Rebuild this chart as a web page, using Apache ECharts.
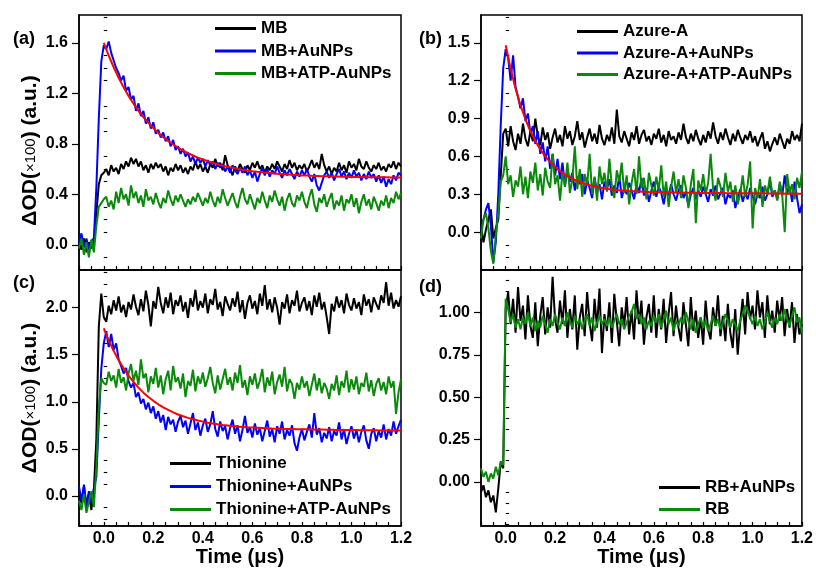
<!DOCTYPE html>
<html><head><meta charset="utf-8">
<script src="https://cdn.jsdelivr.net/npm/echarts@6/dist/echarts.min.js"></script>
<style>html,body{margin:0;padding:0;background:#fff}#c{width:816px;height:571px}</style>
</head><body><div id="c"></div><script>
// time axis (µs) of the measured traces
const T = [
-0.10,-0.09,-0.08,-0.07,-0.06,-0.05,-0.04,-0.03,-0.02,-0.01,
0.00,0.01,0.02,0.03,0.04,0.05,0.06,0.07,0.08,0.09,
0.10,0.11,0.12,0.13,0.14,0.15,0.16,0.17,0.18,0.19,
0.20,0.21,0.22,0.23,0.24,0.25,0.26,0.27,0.28,0.29,
0.30,0.31,0.32,0.33,0.34,0.35,0.36,0.37,0.38,0.39,
0.40,0.41,0.42,0.43,0.44,0.45,0.46,0.47,0.48,0.49,
0.50,0.51,0.52,0.53,0.54,0.55,0.56,0.57,0.58,0.59,
0.60,0.61,0.62,0.63,0.64,0.65,0.66,0.67,0.68,0.69,
0.70,0.71,0.72,0.73,0.74,0.75,0.76,0.77,0.78,0.79,
0.80,0.81,0.82,0.83,0.84,0.85,0.86,0.87,0.88,0.89,
0.90,0.91,0.92,0.93,0.94,0.95,0.96,0.97,0.98,0.99,
1.00,1.01,1.02,1.03,1.04,1.05,1.06,1.07,1.08,1.09,
1.10,1.11,1.12,1.13,1.14,1.15,1.16,1.17,1.18,1.19,
1.20];
// time axis of the fitted curves
const TF = [
0.00,0.02,0.04,0.06,0.08,0.10,0.12,0.14,0.16,0.18,
0.20,0.22,0.24,0.26,0.28,0.30,0.32,0.34,0.36,0.38,
0.40,0.42,0.44,0.46,0.48,0.50,0.52,0.54,0.56,0.58,
0.60,0.62,0.64,0.66,0.68,0.70,0.72,0.74,0.76,0.78,
0.80,0.82,0.84,0.86,0.88,0.90,0.92,0.94,0.96,0.98,
1.00,1.02,1.04,1.06,1.08,1.10,1.12,1.14,1.16,1.18,
1.20];

// ---- panel (a)
const A_MB = [
0.03,-0.04,0.05,-0.06,0.02,-0.03,0.02, 0.25,0.48,0.55,0.57,
0.60,0.55,0.63,0.58,0.61,0.56,0.64,0.60,0.66,0.62,
0.69,0.64,0.68,0.62,0.66,0.59,0.63,0.57,0.64,0.60,
0.65,0.61,0.64,0.58,0.62,0.55,0.61,0.58,0.64,0.59,
0.63,0.57,0.61,0.56,0.62,0.59,0.66,0.60,0.64,0.58,
0.62,0.57,0.64,0.61,0.68,0.62,0.65,0.59,0.71,0.63,
0.60,0.55,0.62,0.58,0.64,0.60,0.57,0.63,0.59,0.65,
0.61,0.66,0.60,0.63,0.57,0.62,0.59,0.64,0.60,0.66,
0.62,0.58,0.64,0.60,0.67,0.61,0.65,0.59,0.63,0.60,
0.64,0.58,0.62,0.67,0.61,0.65,0.60,0.72,0.63,0.58,
0.62,0.56,0.61,0.58,0.65,0.59,0.63,0.57,0.66,0.61,
0.64,0.59,0.68,0.62,0.60,0.66,0.61,0.58,0.63,0.60,
0.65,0.59,0.62,0.58,0.64,0.61,0.66,0.60,0.65,0.62];
const A_MB_Au = [
0.02,0.09,-0.02,0.05,-0.04,0.03,0.05, 0.45,1.00,1.45,1.58,
1.55,1.61,1.52,1.46,1.40,1.36,1.30,1.34,1.22,1.25,
1.15,1.18,1.06,1.12,1.02,1.06,0.96,1.01,0.92,0.97,
0.88,0.91,0.85,0.89,0.82,0.86,0.78,0.83,0.75,0.78,
0.72,0.76,0.70,0.73,0.66,0.70,0.64,0.69,0.65,0.68,
0.62,0.67,0.63,0.66,0.60,0.65,0.61,0.64,0.58,0.62,
0.57,0.63,0.59,0.56,0.61,0.57,0.62,0.55,0.59,0.53,
0.58,0.50,0.56,0.61,0.55,0.60,0.54,0.59,0.56,0.62,
0.57,0.53,0.59,0.55,0.60,0.56,0.52,0.58,0.54,0.59,
0.55,0.60,0.54,0.50,0.56,0.47,0.43,0.49,0.55,0.58,
0.53,0.57,0.51,0.56,0.60,0.54,0.58,0.52,0.57,0.53,
0.59,0.54,0.57,0.51,0.56,0.52,0.58,0.53,0.56,0.50,
0.55,0.49,0.54,0.46,0.52,0.48,0.55,0.51,0.57,0.55];
const A_MB_ATP = [
-0.03,0.05,-0.08,0.02,-0.10,0.04,-0.06, 0.15,0.30,0.33,0.36,
0.38,0.30,0.35,0.28,0.42,0.33,0.45,0.36,0.40,0.31,
0.47,0.37,0.42,0.33,0.39,0.30,0.44,0.35,0.38,0.32,
0.41,0.34,0.29,0.37,0.33,0.43,0.36,0.31,0.39,0.34,
0.40,0.35,0.30,0.36,0.32,0.38,0.34,0.41,0.36,0.31,
0.37,0.33,0.42,0.35,0.30,0.38,0.33,0.44,0.37,0.31,
0.36,0.41,0.34,0.29,0.38,0.45,0.36,0.32,0.40,0.34,
0.28,0.37,0.33,0.42,0.35,0.29,0.39,0.34,0.43,0.36,
0.31,0.38,0.27,0.36,0.41,0.33,0.30,0.39,0.35,0.42,
0.34,0.29,0.38,0.44,0.32,0.26,0.37,0.33,0.40,0.30,
0.36,0.41,0.28,0.35,0.31,0.39,0.27,0.36,0.33,0.40,
0.30,0.37,0.25,0.34,0.40,0.31,0.36,0.28,0.38,0.33,
0.27,0.35,0.31,0.39,0.29,0.37,0.33,0.42,0.36,0.41];
const A_FIT = [
1.600,1.498,1.406,1.323,1.247,1.179,1.117,1.061,1.011,0.965,
0.924,0.886,0.852,0.822,0.794,0.769,0.746,0.726,0.707,0.690,
0.675,0.661,0.649,0.637,0.627,0.618,0.610,0.602,0.595,0.589,
0.583,0.578,0.574,0.570,0.566,0.562,0.559,0.557,0.554,0.552,
0.549,0.548,0.546,0.545,0.543,0.542,0.541,0.540,0.539,0.538,
0.537,0.537,0.536,0.535,0.535,0.534,0.534,0.534,0.533,0.533,
0.533];

// ---- panel (b)
const B_AA = [
0.05,-0.08,0.02,0.10,0.18,-0.05,0.03, 0.10,0.45,0.78,0.82,
0.68,0.84,0.72,0.65,0.78,0.70,0.86,0.74,0.68,0.80,
0.72,0.90,0.76,0.69,0.83,0.73,0.79,0.66,0.75,0.82,
0.71,0.77,0.68,0.84,0.74,0.80,0.69,0.76,0.88,0.73,
0.79,0.67,0.75,0.82,0.72,0.78,0.70,0.85,0.74,0.69,
0.77,0.72,0.83,0.70,0.97,0.76,0.71,0.80,0.74,0.68,
0.79,0.73,0.84,0.70,0.77,0.81,0.72,0.76,0.69,0.78,
0.74,0.82,0.71,0.77,0.68,0.80,0.73,0.76,0.70,0.79,
0.73,0.86,0.75,0.70,0.78,0.72,0.81,0.74,0.69,0.77,
0.71,0.80,0.74,0.87,0.76,0.70,0.79,0.73,0.82,0.75,
0.69,0.78,0.72,0.81,0.75,0.70,0.77,0.73,0.80,0.71,
0.76,0.68,0.74,0.79,0.66,0.72,0.64,0.70,0.75,0.69,
0.78,0.72,0.66,0.74,0.70,0.80,0.73,0.77,0.72,0.86];
const B_AA_Au = [
0.02,0.10,0.18,0.23,0.05,-0.24,-0.08, 0.30,0.85,1.30,1.45,
1.38,1.20,1.40,1.15,1.07,0.98,1.06,0.88,0.94,0.78,
0.84,0.70,0.80,0.62,0.71,0.56,0.68,0.50,0.62,0.45,
0.58,0.42,0.55,0.36,0.50,0.40,0.47,0.33,0.44,0.38,
0.46,0.30,0.41,0.35,0.27,0.43,0.32,0.38,0.26,0.40,
0.34,0.42,0.29,0.37,0.31,0.45,0.27,0.35,0.30,0.39,
0.33,0.26,0.38,0.31,0.43,0.29,0.35,0.24,0.33,0.40,
0.28,0.36,0.31,0.22,0.34,0.29,0.38,0.30,0.25,0.33,
0.37,0.27,0.32,0.21,0.30,0.35,0.26,0.33,0.28,0.36,
0.30,0.24,0.34,0.29,0.37,0.26,0.31,0.35,0.22,0.30,
0.27,0.33,0.19,0.28,0.34,0.24,0.31,0.26,0.35,0.29,
0.22,0.31,0.27,0.36,0.25,0.30,0.41,0.28,0.33,0.26,
0.38,0.29,0.45,0.31,0.36,0.24,0.40,0.27,0.15,0.22];
const B_AA_ATP = [
-0.05,0.10,0.15,0.03,-0.15,-0.25,-0.02, 0.15,0.40,0.45,0.60,
0.38,0.45,0.28,0.41,0.36,0.52,0.30,0.44,0.27,0.48,
0.39,0.55,0.33,0.46,0.29,0.51,0.40,0.35,0.62,0.38,
0.45,0.25,0.48,0.36,0.55,0.31,0.42,0.68,0.34,0.50,
0.28,0.46,0.37,0.62,0.30,0.44,0.25,0.52,0.38,0.47,
0.32,0.58,0.36,0.27,0.49,0.40,0.55,0.31,0.45,0.22,
0.39,0.50,0.30,0.60,0.35,0.43,0.26,0.47,0.37,0.29,
0.44,0.33,0.53,0.28,0.40,0.20,0.36,0.48,0.31,0.42,
0.27,0.45,0.35,0.19,0.38,0.50,0.07,0.41,0.33,0.46,
0.30,0.39,0.62,0.34,0.25,0.43,0.36,0.28,0.47,0.32,
0.40,0.24,0.37,0.22,0.31,0.45,0.28,0.38,0.56,0.03,
0.35,0.27,0.42,0.20,0.37,0.30,0.44,0.30,0.33,0.25,
0.40,0.29,0.00,0.46,0.31,0.38,0.26,0.43,0.35,0.48];
const B_FIT = [
1.480,1.293,1.136,1.004,0.894,0.800,0.722,0.656,0.601,0.555,
0.516,0.483,0.455,0.432,0.413,0.397,0.383,0.371,0.361,0.353,
0.346,0.340,0.336,0.331,0.328,0.325,0.323,0.321,0.319,0.317,
0.316,0.315,0.314,0.313,0.313,0.312,0.312,0.311,0.311,0.310,
0.310,0.310,0.309,0.309,0.309,0.308,0.308,0.308,0.308,0.307,
0.307,0.307,0.307,0.306,0.306,0.306,0.306,0.305,0.305,0.305,
0.305];

// ---- panel (c)
const C_TH = [
0.05,-0.08,0.10,-0.12,0.02,-0.15,0.06, 0.60,1.80,2.15,1.90,
1.85,2.02,1.93,2.08,1.97,2.12,1.95,2.03,1.90,2.06,
1.98,2.14,2.01,1.92,2.09,1.96,2.18,2.03,1.80,2.07,
1.99,2.22,2.05,1.94,2.11,2.00,2.16,1.93,2.08,2.02,
2.13,1.96,2.06,1.89,2.10,2.01,2.19,1.97,2.07,2.00,
2.15,1.94,2.09,2.03,2.20,1.98,2.06,1.91,2.12,2.04,
1.97,2.10,2.01,2.17,1.95,2.08,1.88,2.05,2.13,1.99,
2.07,1.93,2.15,2.02,2.24,1.98,2.09,1.95,2.11,2.00,
1.82,2.06,1.99,2.14,1.94,2.08,2.02,2.18,1.96,2.05,
2.11,1.97,2.07,1.92,2.13,2.01,2.16,1.98,2.06,1.90,
1.72,2.04,1.96,2.12,2.00,2.08,1.94,2.15,2.03,1.97,
2.10,1.99,2.06,1.92,2.14,2.02,2.09,1.95,2.11,2.04,
1.98,2.13,2.05,2.27,2.02,2.16,1.99,2.08,2.01,2.12];
const C_TH_Au = [
0.10,-0.05,0.12,-0.10,0.05,-0.08,0.08, 0.20,0.80,1.35,1.62,
1.75,1.58,1.72,1.55,1.62,1.45,1.38,1.30,1.36,1.22,
1.15,1.20,1.05,1.10,0.98,1.03,0.92,0.99,0.88,0.95,
0.82,0.90,0.78,0.86,0.70,0.84,0.76,0.81,0.68,0.79,
0.85,0.73,0.80,0.66,0.77,0.88,0.70,0.78,0.64,0.75,
0.82,0.68,0.76,0.90,0.71,0.63,0.79,0.69,0.74,0.60,
0.72,0.81,0.66,0.75,0.58,0.70,0.85,0.67,0.73,0.62,
0.77,0.65,0.72,0.58,0.69,0.80,0.63,0.71,0.57,0.74,
0.66,0.79,0.60,0.70,0.64,0.75,0.56,0.48,0.62,0.71,
0.59,0.68,0.76,0.62,0.88,0.65,0.72,0.57,0.67,0.61,
0.73,0.58,0.69,0.64,0.78,0.60,0.71,0.55,0.66,0.74,
0.61,0.70,0.57,0.68,0.75,0.59,0.50,0.66,0.72,0.58,
0.69,0.62,0.76,0.60,0.71,0.64,0.79,0.66,0.74,0.81];
const C_TH_ATP = [
-0.05,-0.15,0.02,-0.18,-0.06,0.05,-0.12, 0.30,0.95,1.25,1.20,
1.18,1.32,1.22,1.28,1.15,1.35,1.20,1.26,1.12,1.30,
1.40,1.22,1.33,1.18,1.45,1.25,1.30,1.10,1.27,1.19,
1.36,1.15,1.28,1.08,1.24,1.33,1.12,1.38,1.21,1.26,
1.14,1.30,1.05,1.22,1.17,1.34,1.11,1.27,1.19,1.31,
1.16,1.25,1.37,1.20,1.09,1.28,1.13,1.24,1.35,1.18,
1.26,1.12,1.31,1.20,1.39,1.15,1.23,1.07,1.27,1.18,
1.30,1.14,1.22,1.35,1.10,1.26,1.17,1.32,1.08,1.21,
1.29,1.16,1.37,1.11,1.24,1.19,1.03,1.20,1.13,1.27,
1.15,1.22,1.06,1.18,1.30,1.12,1.25,1.09,1.20,1.14,
1.03,1.19,1.12,1.28,1.07,1.22,1.15,1.33,1.10,1.24,
1.13,1.27,1.08,1.20,1.16,1.31,1.11,1.23,1.06,1.19,
1.25,1.12,1.21,1.08,1.27,1.15,1.22,0.87,1.10,1.24];
const C_FIT = [
1.780,1.653,1.541,1.442,1.355,1.278,1.210,1.150,1.097,1.051,
1.010,0.973,0.941,0.913,0.888,0.865,0.846,0.829,0.814,0.800,
0.789,0.778,0.769,0.761,0.754,0.748,0.742,0.737,0.733,0.729,
0.726,0.723,0.720,0.717,0.715,0.714,0.712,0.711,0.710,0.709,
0.708,0.707,0.706,0.705,0.704,0.703,0.702,0.701,0.700,0.700,
0.699,0.699,0.698,0.698,0.697,0.697,0.696,0.696,0.695,0.695,
0.694];

// ---- panel (d)
const D_RB_Au = [
-0.06,-0.02,-0.09,-0.05,-0.12,-0.08,-0.18, -0.04,0.12,0.08,1.02,
1.12,0.93,1.08,0.88,1.15,0.95,1.04,0.84,1.10,0.92,
0.85,1.06,0.80,0.98,1.09,0.87,1.03,0.91,1.21,0.96,
0.88,1.07,0.93,1.13,0.85,1.02,0.90,1.10,0.78,0.97,
1.05,0.86,1.12,0.94,0.83,1.08,0.91,1.14,0.76,0.99,
0.89,1.06,0.82,1.11,0.95,0.80,1.03,0.92,1.09,0.87,
1.01,0.84,1.13,0.93,1.07,0.81,0.97,1.05,0.88,1.10,
0.85,1.02,0.90,1.08,0.82,0.99,1.12,0.86,1.04,0.91,
0.83,1.06,0.93,0.80,1.09,0.89,1.01,0.85,0.97,0.81,
1.07,0.90,0.84,1.03,0.92,1.10,0.86,0.98,0.83,1.05,
0.88,0.79,1.02,0.75,0.94,1.08,0.87,1.12,0.96,1.04,
0.90,1.13,0.97,1.06,0.85,1.10,0.93,1.01,0.88,1.07,
0.95,1.09,0.86,1.02,0.91,1.06,0.82,0.99,0.87,0.93];
const D_RB = [
0.08,0.03,0.06,0.00,0.05,0.02,0.09, 0.04,0.12,0.10,1.08,
1.02,0.94,0.99,0.91,0.96,0.90,0.97,0.93,1.00,0.92,
0.97,0.89,0.95,0.91,0.98,0.93,0.88,0.96,0.92,0.99,
0.94,0.90,0.97,0.92,1.00,0.95,0.91,0.98,0.93,0.96,
0.90,0.95,0.99,0.92,0.97,0.89,0.94,0.98,0.93,0.96,
0.92,0.97,0.91,0.95,0.99,0.93,0.96,0.90,0.94,0.98,
1.00,1.05,0.96,0.99,0.93,0.97,0.90,0.95,0.92,0.98,
0.94,0.99,0.91,0.96,1.01,0.93,0.97,0.89,0.95,0.92,
0.97,0.93,1.00,0.95,0.90,0.96,0.88,0.93,0.97,0.91,
0.95,0.89,0.93,0.98,0.92,0.96,0.90,0.94,0.99,0.95,
0.91,0.96,0.93,0.89,0.95,0.99,1.04,1.01,0.97,0.93,
0.98,0.92,0.96,0.90,0.94,1.00,0.95,0.91,0.97,0.93,
0.99,0.95,1.02,0.96,0.92,0.98,1.03,0.94,0.97,0.88];

// ---- ticks and labels
const X_TICKS = [-0.10,-0.05,0.00,0.05,0.10,0.15,0.20,0.25,0.30,0.35,0.40,0.45,0.50,0.55,0.60,0.65,0.70,0.75,0.80,0.85,0.90,0.95,1.00,1.05,1.10,1.15,1.20];
const X_LABELS = [0.0,0.2,0.4,0.6,0.8,1.0,1.2];
const Y_MAJOR = [
  [0.0,0.4,0.8,1.2,1.6],
  [0.0,0.3,0.6,0.9,1.2,1.5],
  [0.0,0.5,1.0,1.5,2.0],
  [0.00,0.25,0.50,0.75,1.00]
];
const Y_MINOR = [
  [-0.1,0.1,0.2,0.3,0.5,0.6,0.7,0.9,1.0,1.1,1.3,1.4,1.5,1.7,1.8],
  [-0.2,-0.1,0.1,0.2,0.4,0.5,0.7,0.8,1.0,1.1,1.3,1.4,1.6,1.7],
  [-0.25,-0.125,0.125,0.25,0.375,0.625,0.75,0.875,1.125,1.25,1.375,1.625,1.75,1.875,2.125,2.25,2.375],
  [-0.25,-0.1875,-0.125,-0.0625,0.0625,0.125,0.1875,0.3125,0.375,0.4375,0.5625,0.625,0.6875,0.8125,0.875,0.9375,1.0625,1.125,1.1875]
];
const Y_DEC = [1,1,1,2];
const Y_RANGE = [[-0.2,1.82],[-0.3,1.72],[-0.32,2.40],[-0.26,1.25]];
const LEGENDS = [
  ['MB','MB+AuNPs','MB+ATP-AuNPs'],
  ['Azure-A','Azure-A+AuNPs','Azure-A+ATP-AuNPs'],
  ['Thionine','Thionine+AuNPs','Thionine+ATP-AuNPs'],
  ['RB+AuNPs','RB']
];
const PANEL_TAGS = ['(a)','(b)','(c)','(d)'];

// ---- layout / style
const FONT = '"Liberation Sans", Arial, Helvetica, sans-serif';
const BLACK = '#000000', BLUE = '#0000FF', GREEN = '#0A8A0A', RED = '#FF0000';
const grids = [
  {left:79, top:15, width:322, height:255},
  {left:481, top:15, width:321, height:255},
  {left:79, top:270, width:322, height:256},
  {left:481, top:270, width:321, height:256}
].map(g => Object.assign(g, {show:true, borderColor:'#000', borderWidth:1.5, backgroundColor:'transparent', containLabel:false}));

const pairs = (xs, ys) => xs.map((x, i) => [x, ys[i]]);

const xAxes = [0,1,2,3].map(i => ({
  type:'value', gridIndex:i, min:-0.1, max:1.2,
  axisLine:{show:true, onZero:false, lineStyle:{color:'#000', width:1.5}},
  axisTick:{show:true, inside:true, length:4, customValues:X_TICKS, lineStyle:{color:'#000', width:1.2}},
  axisLabel:{show:i>=2, customValues:X_LABELS, formatter:v => Number(v).toFixed(1),
    fontFamily:FONT, fontSize:16, fontWeight:'bold', color:'#000', margin:5},
  splitLine:{show:false},
  name: i>=2 ? 'Time (μs)' : '',
  nameLocation:'middle', nameGap:21,
  nameTextStyle:{fontFamily:FONT, fontSize:20, fontWeight:'bold', color:'#000'}
}));

const yTitle = '{b|ΔOD(}{s|×100}{b|) (a.u.)}';
const yMajor = [0,1,2,3].map(i => ({
  type:'value', gridIndex:i, min:Y_RANGE[i][0], max:Y_RANGE[i][1],
  axisLine:{show:true, onZero:false, lineStyle:{color:'#000', width:1.5}},
  axisTick:{show:true, inside:false, length:7, customValues:Y_MAJOR[i], lineStyle:{color:'#000', width:1.2}},
  axisLabel:{show:true, customValues:Y_MAJOR[i], formatter:v => Math.abs(v) < 1e-9 ? (0).toFixed(Y_DEC[i]) : Number(v).toFixed(Y_DEC[i]),
    fontFamily:FONT, fontSize:16, fontWeight:'bold', color:'#000', margin:11},
  splitLine:{show:false},
  name: (i === 0 || i === 2) ? yTitle : '',
  nameLocation:'middle', nameRotate:90, nameGap:38,
  nameTextStyle:{
    padding: i === 0 ? [0,16,0,0] : [0,0,0,0],
    rich:{
      b:{fontFamily:FONT, fontSize:21, fontWeight:'bold', color:'#000'},
      s:{fontFamily:FONT, fontSize:15, fontWeight:'normal', color:'#000'}
    }
  }
}));
const yMinor = [0,1,2,3].map(i => ({
  type:'value', gridIndex:i, min:Y_RANGE[i][0], max:Y_RANGE[i][1],
  axisLine:{show:false},
  axisTick:{show:true, inside:false, length:3.5, customValues:Y_MINOR[i], lineStyle:{color:'#000', width:1.1}},
  axisLabel:{show:false},
  splitLine:{show:false}
}));

function trace(name, panel, color, xs, ys, z) {
  return {
    name, type:'line', xAxisIndex:panel, yAxisIndex:panel,
    data:pairs(xs, ys), showSymbol:false, symbol:'none',
    color, lineStyle:{color, width:2}, itemStyle:{color},
    z, animation:false, silent:true
  };
}

const series = [
  trace('MB', 0, BLACK, T, A_MB, 2),
  trace('MB+AuNPs', 0, BLUE, T, A_MB_Au, 3),
  trace('MB+ATP-AuNPs', 0, GREEN, T, A_MB_ATP, 4),
  trace('fit (a)', 0, RED, TF, A_FIT, 5),
  trace('Azure-A', 1, BLACK, T, B_AA, 2),
  trace('Azure-A+AuNPs', 1, BLUE, T, B_AA_Au, 3),
  trace('Azure-A+ATP-AuNPs', 1, GREEN, T, B_AA_ATP, 4),
  trace('fit (b)', 1, RED, TF, B_FIT, 5),
  trace('Thionine', 2, BLACK, T, C_TH, 2),
  trace('Thionine+AuNPs', 2, BLUE, T, C_TH_Au, 3),
  trace('Thionine+ATP-AuNPs', 2, GREEN, T, C_TH_ATP, 4),
  trace('fit (c)', 2, RED, TF, C_FIT, 5),
  trace('RB+AuNPs', 3, BLACK, T, D_RB_Au, 2),
  trace('RB', 3, GREEN, T, D_RB, 3)
];

const legendPos = [
  {left:215, top:20, itemGap:5.5},
  {left:577, top:23, itemGap:4.5},
  {left:170, top:455, itemGap:6},
  {left:659, top:479, itemGap:5}
];
const legend = legendPos.map((p, i) => ({
  data:LEGENDS[i], orient:'vertical', left:p.left, top:p.top, itemGap:p.itemGap,
  padding:0, icon:'rect', itemWidth:41, itemHeight:3,
  selectedMode:false,
  textStyle:{fontFamily:FONT, fontSize:17, fontWeight:'bold', color:'#000', padding:[0,0,0,0]}
}));

const tagPos = [[13,39],[419,39],[13,283],[419,287]];
const graphic = PANEL_TAGS.map((t, i) => ({
  type:'text', x:tagPos[i][0], y:tagPos[i][1], silent:true,
  style:{text:t, font:'bold 18px ' + FONT, fill:'#000', verticalAlign:'middle', align:'left'}
}));

const chart = echarts.init(document.getElementById('c'), null, {renderer:'canvas'});
chart.setOption({
  backgroundColor:'#ffffff',
  animation:false,
  grid:grids,
  xAxis:xAxes,
  yAxis:yMajor.concat(yMinor),
  legend,
  graphic,
  series
});
</script></body></html>
